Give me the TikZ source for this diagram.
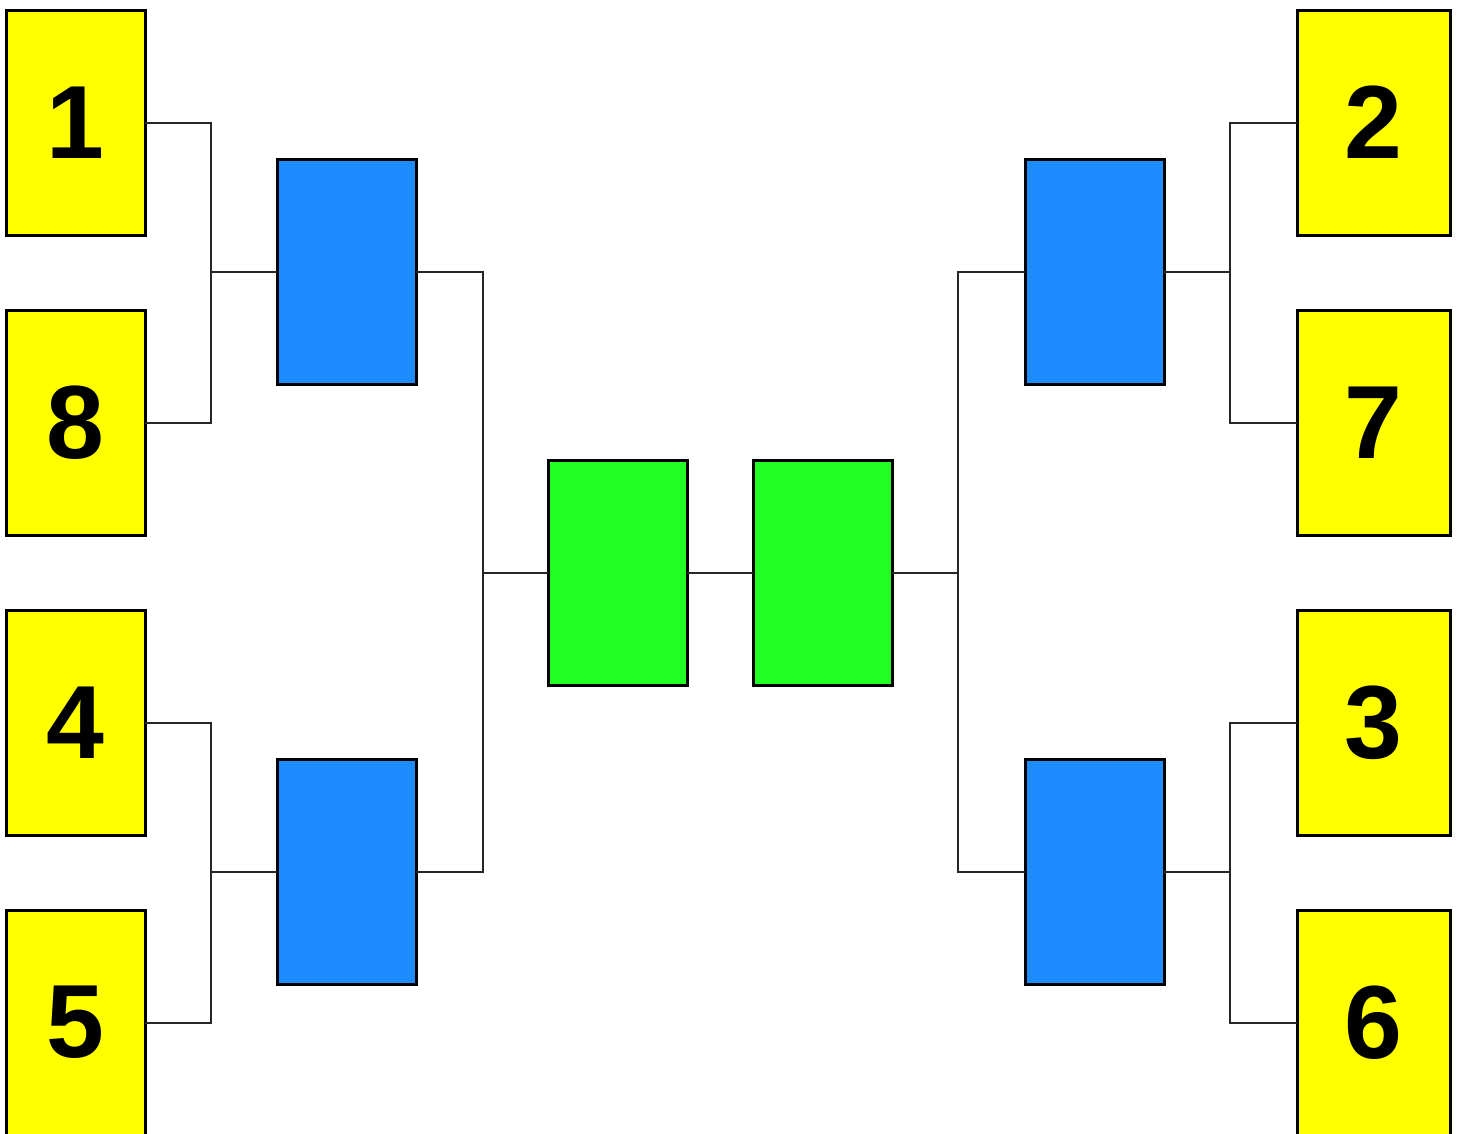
\documentclass[tikz,border=0pt]{standalone}
\usepackage{fontspec}
\setmainfont{Liberation Sans}
\definecolor{seedyellow}{RGB}{255,255,0}
\definecolor{semiblue}{RGB}{30,140,255}
\definecolor{finalgreen}{RGB}{34,255,34}
\begin{document}
\begin{tikzpicture}[x=1pt,y=-1pt,
  box/.style={draw=black,line width=3pt,minimum height=225pt,inner sep=0pt,outer sep=0pt,
    font=\fontsize{104}{104}\selectfont\bfseries},
  seedl/.style={box,fill=seedyellow,minimum width=139pt},
  seedr/.style={box,fill=seedyellow,minimum width=153pt},
  semi/.style={box,fill=semiblue,minimum width=139pt},
  fin/.style={box,fill=finalgreen,minimum width=139pt},
  wire/.style={draw=black!85,line width=2pt}]
\useasboundingbox (0,0) rectangle (1461,1133);
\clip (0,0) rectangle (1461,1133);
\fill[white] (0,0) rectangle (1461,1133);
% seeds left
\node[seedl] (y1) at (75.5,122.5) {1};
\node[seedl] (y8) at (75.5,422.5) {8};
\node[seedl] (y4) at (75.5,722.5) {4};
\node[seedl] (y5) at (75.5,1022.5) {5};
% seeds right
\node[seedr] (y2) at (1373.5,122.5) {2};
\node[seedr] (y7) at (1373.5,422.5) {7};
\node[seedr] (y3) at (1373.5,722.5) {3};
\node[seedr] (y6) at (1373.5,1022.5) {6};
% semis
\node[semi] (b1) at (346.5,272) {};
\node[semi] (b2) at (346.5,872) {};
\node[semi] (b3) at (1094.5,272) {};
\node[semi] (b4) at (1094.5,872) {};
% finals
\node[fin] (g1) at (617.5,572.5) {};
\node[fin] (g2) at (822.5,572.5) {};
% junctions
\coordinate (j1) at (211,272);
\coordinate (j2) at (211,872);
\coordinate (j3) at (1230,272);
\coordinate (j4) at (1230,872);
\coordinate (k1) at (483,572.5);
\coordinate (k2) at (958,572.5);
% left wires
\draw[wire] (y1.east) -| (j1) -- (b1.west);
\draw[wire] (y8.east) -| (j1);
\draw[wire] (y4.east) -| (j2) -- (b2.west);
\draw[wire] (y5.east) -| (j2);
\draw[wire] (b1.east) -| (k1) -- (g1.west);
\draw[wire] (b2.east) -| (k1);
% right wires
\draw[wire] (y2.west) -| (j3) -- (b3.east);
\draw[wire] (y7.west) -| (j3);
\draw[wire] (y3.west) -| (j4) -- (b4.east);
\draw[wire] (y6.west) -| (j4);
\draw[wire] (b3.west) -| (k2) -- (g2.east);
\draw[wire] (b4.west) -| (k2);
% center
\draw[wire] (g1.east) -- (g2.west);
\end{tikzpicture}
\end{document}
